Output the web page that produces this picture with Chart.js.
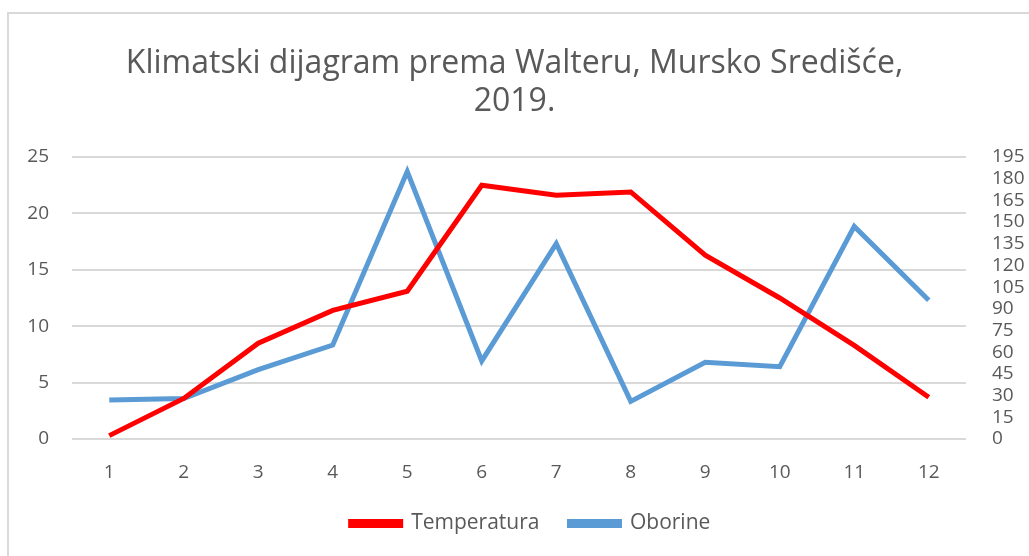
<!DOCTYPE html>
<html>
<head>
<meta charset="utf-8">
<script src="https://cdn.jsdelivr.net/npm/chart.js@4"></script>
<style>
  body { margin: 0; background: #fff; }
  #okvir { position: absolute; left: 7px; top: 12px; width: 1040px; height: 560px;
           border-left: 2px solid #d9d9d9; border-top: 2px solid #d9d9d9; }
  #kutija { position: absolute; left: 0; top: 0; width: 1029px; height: 556px; }
</style>
</head>
<body>
<div id="okvir"></div>
<div id="kutija"><canvas id="klimaGraf"></canvas></div>
<script>
// mjeseci i podaci (procjena s grafa)
var mjeseci = ['1','2','3','4','5','6','7','8','9','10','11','12'];
var temperatura = [0.3, 3.6, 8.5, 11.4, 13.1, 22.5, 21.6, 21.9, 16.3, 12.5, 8.3, 3.7];
var oborine = [27, 28, 48, 65, 185, 54, 135, 26, 53, 50, 147, 96];
var naslov = ['Klimatski dijagram prema Walteru, Mursko Središće,', '2019.'];

var siva = '#595959';
var font = "'Open Sans', sans-serif";

// legenda je u originalu malo desno od sredine
var pomakLegende = {
  id: 'pomakLegende',
  afterLayout: function(chart) {
    chart.legend.left += 32;
  }
};

var ctx = document.getElementById('klimaGraf').getContext('2d');

var graf = new Chart(ctx, {
  type: 'line',
  data: {
    labels: mjeseci,
    datasets: [
      {
        label: 'Temperatura',
        data: temperatura,
        borderColor: '#ff0000',
        backgroundColor: '#ff0000',
        borderWidth: 5,
        pointRadius: 0,
        tension: 0,
        yAxisID: 'y'
      },
      {
        label: 'Oborine',
        data: oborine,
        borderColor: '#5b9bd5',
        backgroundColor: '#5b9bd5',
        borderWidth: 5,
        pointRadius: 0,
        tension: 0,
        yAxisID: 'y1'
      }
    ]
  },
  plugins: [pomakLegende],
  options: {
    responsive: true,
    maintainAspectRatio: false,
    animation: false,
    layout: { padding: { top: 0, bottom: 12, left: 0, right: 0 } },
    plugins: {
      title: {
        display: true,
        text: naslov,
        color: siva,
        font: { family: font, size: 32, weight: 'normal', lineHeight: '38px' },
        padding: { top: 45, bottom: 36 }
      },
      legend: {
        position: 'bottom',
        labels: {
          color: siva,
          font: { family: font, size: 21 },
          boxWidth: 50,
          boxHeight: 4,
          padding: 30
        }
      },
      tooltip: { enabled: false }
    },
    scales: {
      x: {
        offset: true,
        grid: { display: false },
        border: { display: false },
        ticks: { color: siva, font: { family: font, size: 19 }, padding: 14, maxRotation: 0 },
        afterFit: function(os) { os.height = 44; }
      },
      y: {
        position: 'left',
        min: 0,
        max: 25,
        grid: { color: '#d9d9d9', lineWidth: 2, drawTicks: false },
        border: { display: false },
        ticks: { stepSize: 5, color: siva, font: { family: font, size: 19 }, padding: 23 },
        afterFit: function(os) { os.width = 72; }
      },
      y1: {
        position: 'right',
        min: 0,
        max: 195,
        grid: { drawOnChartArea: false, drawTicks: false },
        border: { display: false },
        ticks: { stepSize: 15, color: siva, font: { family: font, size: 19 }, padding: 26, autoSkip: false },
        afterFit: function(os) { os.width = 63; }
      }
    }
  }
});
</script>
</body>
</html>
